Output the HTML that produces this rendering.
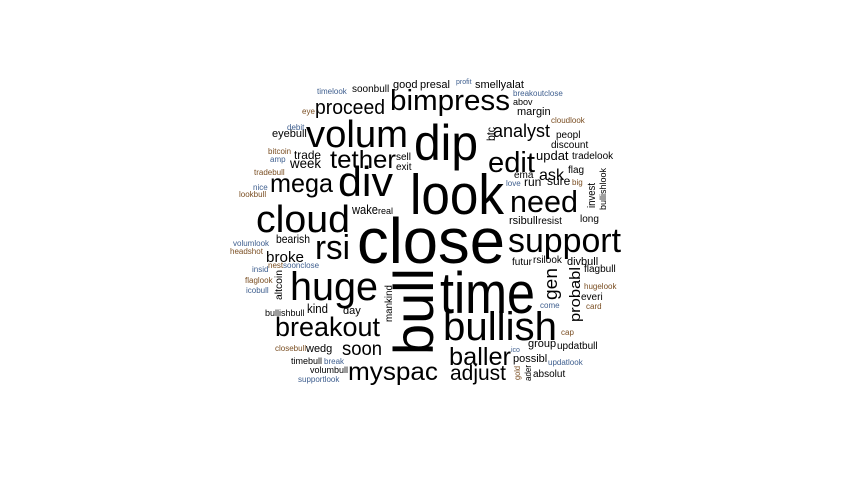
<!DOCTYPE html>
<html><head><meta charset="utf-8"><style>
html,body{margin:0;padding:0;background:#fff;}
svg{display:block;font-family:"Liberation Sans",Arial,sans-serif;}
</style></head><body>
<svg id="cloud" width="865" height="478" viewBox="0 0 865 478"></svg>
<script>
const words=["close","look","time","dip","huge","div","volum","cloud","bullish","support","rsi","need","mega","bimpress","tether","edit","breakout","baller","myspac","adjust","proceed","soon","analyst","ask","week","trade","broke","bearish","kind","wake","real","eyebull","sell","exit","soonbull","good","presal","profit","smellyalat","breakoutclose","abov","margin","cloudlook","peopl","discount","updat","tradelook","flag","ema","love","run","sure","big","rsibull","resist","long","futur","rsilook","divbull","flagbull","hugelook","everi","card","come","cap","group","updatbull","ico","possibl","updatlook","absolut","timelook","eye","debit","bitcoin","amp","tradebull","nice","lookbull","volumlook","headshot","insid","nest","soonclose","flaglook","icobull","bullishbull","day","closebull","wedg","timebull","break","volumbull","supportlook"];
const xs=[357,410,440,414,290,338,306,256,443,508,315,510,270,390,330,488,275,449,348,450,315,342,493,539,290,294,266,276,307,352,378,272,396,396,352,393,420,456,475,513,513,517,551,556,551,536,572,568,514,506,524,547,572,509,538,580,512,533,567,584,584,581,586,540,561,528,557,511,513,548,533,317,302,287,268,270,254,253,239,233,230,252,268,283,245,246,265,343,275,306,291,324,310,298];
const ys=[263,214,313,160,300,196,147,232,340,252,259,212,192,110,168,172,336,365,380,380,114,355,137,180,168,159,262,243,313,214,214,137,160,170,92,88,88,84,88,96,105,115,123,138,148,160,159,173,178,186,186,185,185,224,224,222,265,263,265,272,289,300,309,308,335,347,349,352,362,365,377,94,114,130,154,162,175,190,197,246,254,272,268,268,283,293,316,314,351,352,364,364,373,382];
const sizes=[64,57,58,50,40,42,38,38,40,34,34,31,26,29,25,29,27,25,25,21,20,19,18,16,14,12,15,12,13,13,9,11,10,10,10,11,11,7,11,8,9,11,8,10,10,13,10,10,10,8,12,12,8,11,10,10,10,10,11,10,8,10,8,8,8,11,10,7,11,8,10,8,8,8,8,8,8,8,8,8,8,8,8,8,8,8,9,11,8,11,9,8,9,8];
const widths=[148,94,95,64,88,55,102,94,114,113,35,68,63,120,66,47,105,62,90,56,70,40,57,25,31,27,38,34,21,26];
const rotWords=["bull","probabl","gen","btc","invest","bullishlook","mankind","altcoin","gold","ader"];
const rotX=[433,580,557,495,595,606,392,282,520,531];
const rotY=[355,322,300,141,208,210,322,300,380,381];
const rotSizes=[56,15,18,12,11,9,10,10,8,9];
const rotLens=[87,55,32,14,25,42,37,30,14,16];
const svg=document.getElementById('cloud');
const NS='http://www.w3.org/2000/svg';
function color(s,i){if(s>8)return '#000';return i%2?'#3f5f8f':'#7a4e22';}
words.forEach((w,i)=>{
  const t=document.createElementNS(NS,'text');
  t.setAttribute('x',xs[i]);t.setAttribute('y',ys[i]);
  t.setAttribute('font-size',sizes[i]);
  t.setAttribute('fill',color(sizes[i],i));
  if(i<widths.length){t.setAttribute('textLength',widths[i]);t.setAttribute('lengthAdjust','spacingAndGlyphs');}
  
  
  t.textContent=w;svg.appendChild(t);
});
rotWords.forEach((w,i)=>{
  const t=document.createElementNS(NS,'text');
  t.setAttribute('x',rotX[i]);t.setAttribute('y',rotY[i]);
  t.setAttribute('font-size',rotSizes[i]);
  t.setAttribute('fill',color(rotSizes[i],i));
  t.setAttribute('transform','rotate(-90 '+rotX[i]+' '+rotY[i]+')');
  t.setAttribute('textLength',rotLens[i]);t.setAttribute('lengthAdjust','spacingAndGlyphs');
  
  
  t.textContent=w;svg.appendChild(t);
});
</script>
</body></html>
